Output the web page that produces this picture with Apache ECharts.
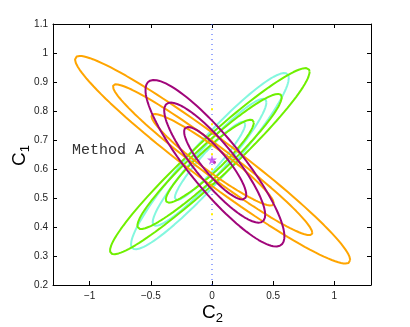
<!DOCTYPE html>
<html>
<head>
<meta charset="utf-8">
<script src="https://cdn.jsdelivr.net/npm/echarts@6/dist/echarts.min.js"></script>
<style>
  html, body { margin: 0; padding: 0; background: #fff; }
  #chart { width: 410px; height: 327px; }
</style>
</head>
<body>
<div id="chart"></div>
<script>
// ellipse params: [centerX, centerY, halfWidthX, halfHeightY, rho]
const orangeEllipses = [
  [0.005, 0.632, 1.125, 0.358, -0.966],
  [0.005, 0.632, 0.815, 0.260, -0.970],
  [0.005, 0.632, 0.500, 0.158, -0.950]
]
const cyanEllipses = [
  [-0.017, 0.627, 0.645, 0.304, 0.944],
  [-0.020, 0.623, 0.465, 0.219, 0.944],
  [-0.016, 0.628, 0.288, 0.135, 0.940]
]
const greenEllipses = [
  [-0.018, 0.627, 0.816, 0.321, 0.960],
  [-0.020, 0.626, 0.590, 0.233, 0.950],
  [-0.018, 0.627, 0.360, 0.143, 0.930]
]
const purpleEllipses = [
  [0.024, 0.620, 0.568, 0.287, -0.880],
  [0.022, 0.622, 0.413, 0.207, -0.870],
  [0.026, 0.620, 0.254, 0.125, -0.870]
]
const starPoint = [0, 0.632]
const purpleCenter = [0.02, 0.623]
const yellowSegment = [[0, 0.42], [0, 0.84]]
const xTicks = [-1, -0.5, 0, 0.5, 1]

const ellipsePoints = ([cx, cy, hx, hy, rho]) => {
  const pts = []
  const n = 120
  for (let i = 0; i <= n; i++) {
    const t = (i / n) * Math.PI * 2
    pts.push([
      cx + hx * Math.cos(t),
      cy + hy * (rho * Math.cos(t) + Math.sqrt(1 - rho * rho) * Math.sin(t))
    ])
  }
  return pts
}

const ellipseSeries = (list, color) =>
  list.map((p) => ({
    type: 'line',
    data: ellipsePoints(p),
    showSymbol: false,
    lineStyle: { color, width: 2 },
    z: 3
  }))

const chart = echarts.init(document.getElementById('chart'))
const tickLabel = { color: '#222', fontSize: 10, fontFamily: 'Liberation Sans' }

chart.setOption({
  animation: false,
  grid: { left: 53, right: 39, top: 24, bottom: 42 },
  xAxis: [
    {
      type: 'value', min: -1.3, max: 1.3,
      axisLine: { onZero: false, lineStyle: { color: '#000', width: 1 } },
      axisTick: { inside: true, length: 4, customValues: xTicks, lineStyle: { color: '#000' } },
      axisLabel: { ...tickLabel, customValues: xTicks, margin: 6, formatter: (v) => String(v).replace('-', '\u2212') },
      splitLine: { show: false }
    },
    {
      type: 'value', min: -1.3, max: 1.3, position: 'top',
      axisLine: { onZero: false, lineStyle: { color: '#000', width: 1 } },
      axisTick: { inside: true, length: 4, customValues: xTicks, lineStyle: { color: '#000' } },
      axisLabel: { show: false },
      splitLine: { show: false }
    }
  ],
  yAxis: [
    {
      type: 'value', min: 0.2, max: 1.1, interval: 0.1,
      axisLine: { onZero: false, lineStyle: { color: '#000', width: 1 } },
      axisTick: { inside: true, length: 4, lineStyle: { color: '#000' } },
      axisLabel: { ...tickLabel, margin: 5, formatter: (v) => String(+v.toFixed(1)) },
      splitLine: { show: false }
    },
    {
      type: 'value', min: 0.2, max: 1.1, interval: 0.1, position: 'right',
      axisLine: { onZero: false, lineStyle: { color: '#000', width: 1 } },
      axisTick: { inside: true, length: 4, lineStyle: { color: '#000' } },
      axisLabel: { show: false },
      splitLine: { show: false }
    }
  ],
  graphic: [
    {
      type: 'text', left: 72, top: 143,
      style: { text: 'Method A', font: '15px "Liberation Mono", "DejaVu Sans Mono", monospace', fill: '#333' }
    },
    {
      type: 'text', x: 202, y: 300,
      style: {
        text: '{c|C}{s|2}',
        rich: {
          c: { fontSize: 19, fontFamily: 'Liberation Sans', fill: '#000' },
          s: { fontSize: 13, fontFamily: 'Liberation Sans', fill: '#000', padding: [12, 0, 0, 0] }
        }
      }
    },
    {
      type: 'text', x: 7, y: 166, rotation: Math.PI / 2,
      style: {
        text: '{c|C}{s|1}',
        rich: {
          c: { fontSize: 19, fontFamily: 'Liberation Sans', fill: '#000' },
          s: { fontSize: 13, fontFamily: 'Liberation Sans', fill: '#000', padding: [12, 0, 0, 0] }
        }
      }
    }
  ],
  series: [
    {
      type: 'line', data: [[0, 0.2], [0, 1.1]], showSymbol: false,
      lineStyle: { color: '#3355ff', width: 1, type: [1, 4] }, z: 1
    },
    {
      type: 'line', data: yellowSegment, showSymbol: false,
      lineStyle: { color: '#ffee00', width: 2, type: [2, 13], dashOffset: -6 }, z: 2
    },
    ...ellipseSeries(cyanEllipses, '#84f7df'),
    ...ellipseSeries(greenEllipses, '#6ff000'),
    ...ellipseSeries(orangeEllipses, '#ffa500'),
    ...ellipseSeries(purpleEllipses, '#a0057a'),
    {
      type: 'scatter', data: [purpleCenter], symbolSize: 3,
      itemStyle: { color: '#a0057a' }, z: 5
    },
    {
      type: 'scatter', data: [starPoint], symbolSize: 10,
      symbol: 'path://M50,0 L61,35 L98,35 L68,57 L79,91 L50,70 L21,91 L32,57 L2,35 L39,35 Z',
      itemStyle: { color: '#c040f0' }, z: 6
    }
  ]
})
</script>
</body>
</html>
